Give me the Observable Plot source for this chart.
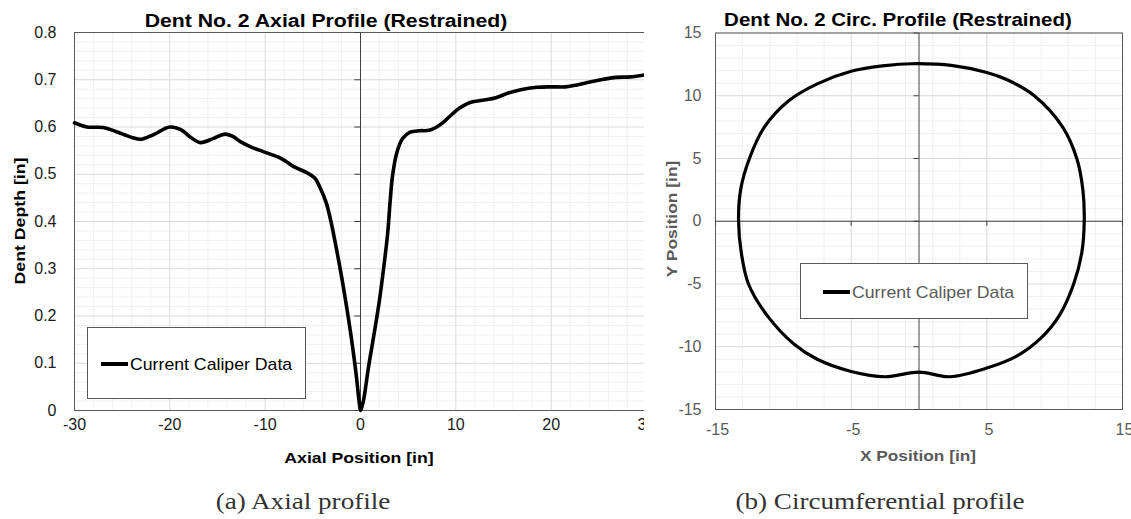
<!DOCTYPE html>
<html>
<head>
<meta charset="utf-8">
<script src="https://cdn.jsdelivr.net/npm/d3@7"></script>
<script src="https://cdn.jsdelivr.net/npm/@observablehq/plot@0.6"></script>
<style>
  html, body { margin: 0; padding: 0; background: #fff; }
  body { position: relative; width: 1131px; height: 519px; overflow: hidden;
         font-family: "Liberation Sans", Arial, sans-serif; }
  .panel { position: absolute; top: 0; height: 519px; overflow: hidden; }
  .panel svg { max-width: none !important; }
  .txt { position: absolute; white-space: nowrap; line-height: 1; }
  .legend { position: absolute; background: #fff; border: 1px solid #595959; box-sizing: border-box; }
  .swatch { position: absolute; height: 4px; background: #000; }
</style>
</head>
<body>
<script>
// Dent No. 2 axial profile: depth along the pipe axis
const axialPosition = [
  -30, -28.7, -27, -25.6, -24, -23, -21.7, -20, -18.8, -17.8, -16.8, -15.4, -14.2, -13.4,
  -12.6, -11.4, -10.2, -8.6, -7.8, -7.0, -5.6, -4.8, -4.2, -3.6, -3.1, -2.6, -2.0, -1.4,
  -0.9, -0.45, -0.15, 0, 0.15, 0.35, 0.85, 1.45, 2.0, 2.45, 2.85, 3.1, 3.35, 3.8, 4.4,
  5.2, 6.2, 7.2, 8.0, 8.8, 9.6, 10.4, 11.5, 13, 14.2, 15.5, 16.8, 18.5, 20, 21.5, 22.7,
  24.2, 25.5, 26.8, 28.3, 30
];
const dentDepth = [
  0.609, 0.600, 0.599, 0.590, 0.578, 0.574, 0.584, 0.600, 0.594, 0.578, 0.567, 0.576, 0.585, 0.580,
  0.569, 0.557, 0.548, 0.536, 0.527, 0.516, 0.503, 0.492, 0.470, 0.440, 0.400, 0.350, 0.285, 0.212,
  0.145, 0.075, 0.020, 0.0, 0.008, 0.025, 0.093, 0.165, 0.235, 0.305, 0.375, 0.440, 0.495, 0.545, 0.575,
  0.589, 0.592, 0.593, 0.600, 0.612, 0.627, 0.640, 0.652, 0.657, 0.662, 0.672, 0.679, 0.684, 0.685, 0.685, 0.689,
  0.696, 0.701, 0.705, 0.706, 0.711
];
const axialTicks = [-30, -20, -10, 0, 10, 20, 30];
const axialMinor = [-28, -26, -24, -22, -18, -16, -14, -12, -8, -6, -4, -2, 2, 4, 6, 8, 12, 14, 16, 18, 22, 24, 26, 28];
const depthTicks = [0, 0.1, 0.2, 0.3, 0.4, 0.5, 0.6, 0.7, 0.8];
const depthMinor = [0.02, 0.04, 0.06, 0.08, 0.12, 0.14, 0.16, 0.18, 0.22, 0.24, 0.26, 0.28,
  0.32, 0.34, 0.36, 0.38, 0.42, 0.44, 0.46, 0.48, 0.52, 0.54, 0.56, 0.58, 0.62, 0.64, 0.66, 0.68,
  0.72, 0.74, 0.76, 0.78];

// Dent No. 2 circumferential profile: cross-section outline, counter-clockwise from the right
const circX = [
  12.18, 12.08, 11.63, 10.59, 8.5, 6.5, 5.0, 2.5, -0.56, -2.5, -5.0, -7.5, -9.6, -11.4, -12.5, -13.15,
  -13.3, -13.1, -12.57, -11.2, -9.2, -7.5, -5.0, -2.52, 0.0, 2.25, 5.0, 7.2, 9.0, 10.35, 11.4, 12.0
];
const circY = [
  0, 2.5, 5, 7.5, 10, 11.27, 11.85, 12.4, 12.55, 12.4, 11.95, 10.95, 9.6, 7.5, 5, 2.5,
  0, -2.5, -5, -7.5, -9.8, -11.0, -11.97, -12.39, -12.02, -12.39, -11.7, -10.75, -9.3, -7.5, -5, -2.5
];
const circXTicks = [-15, -5, 5, 15];
const circXMinor = [-13, -11, -9, -7, -3, -1, 1, 3, 7, 9, 11, 13];
const circYTicks = [-15, -10, -5, 0, 5, 10, 15];
const circYMinor = [-14, -13, -12, -11, -9, -8, -7, -6, -4, -3, -2, -1, 1, 2, 3, 4, 6, 7, 8, 9, 11, 12, 13, 14];

const seriesLabel = "Current Caliper Data";

const font = "'Liberation Sans', Arial, sans-serif";

// ---- (a) axial profile ----
const axialIdx = d3.range(axialPosition.length);
const axialChart = Plot.plot({
  width: 660, height: 470,
  marginLeft: 74, marginRight: 14, marginTop: 32, marginBottom: 60,
  x: {domain: [-30, 30]},
  y: {domain: [0, 0.8]},
  style: {fontFamily: font, fontSize: "16px", color: "#1a1a1a", background: "transparent"},
  marks: [
    Plot.gridX(axialMinor, {stroke: "#f0f0f0", strokeOpacity: 1}),
    Plot.gridY(depthMinor, {stroke: "#f0f0f0", strokeOpacity: 1}),
    Plot.gridX(axialTicks, {stroke: "#d9d9d9", strokeOpacity: 1}),
    Plot.gridY(depthTicks, {stroke: "#d9d9d9", strokeOpacity: 1}),
    Plot.frame({stroke: "#595959"}),
    Plot.ruleX([0], {stroke: "#404040"}),
    Plot.ruleY(depthTicks, {y: d => d, x1: 0, x2: -0.6, stroke: "#404040"}),
    Plot.axisX(axialTicks, {tickSize: 0, tickPadding: 8, tickFormat: d => String(d), label: null, fontSize: 16}),
    Plot.axisY(depthTicks, {tickSize: 0, tickPadding: 18, tickFormat: d => String(d), label: null, fontSize: 16}),
    Plot.line(axialIdx, {x: i => axialPosition[i], y: i => dentDepth[i], curve: "catmull-rom",
      stroke: "#000", strokeWidth: 3.6})
  ]
});

// ---- (b) circumferential profile ----
const circIdx = d3.range(circX.length);
const circChart = Plot.plot({
  width: 492, height: 469,
  marginLeft: 65, marginRight: 20, marginTop: 32.5, marginBottom: 60,
  x: {domain: [-15, 15]},
  y: {domain: [-15, 15]},
  style: {fontFamily: font, fontSize: "16px", color: "#595959", background: "transparent"},
  marks: [
    Plot.gridX(circXMinor, {stroke: "#f0f0f0", strokeOpacity: 1}),
    Plot.gridY(circYMinor, {stroke: "#f0f0f0", strokeOpacity: 1}),
    Plot.gridX(circXTicks, {stroke: "#d9d9d9", strokeOpacity: 1}),
    Plot.gridY(circYTicks, {stroke: "#d9d9d9", strokeOpacity: 1}),
    Plot.frame({stroke: "#595959"}),
    Plot.ruleX([0], {stroke: "#404040"}),
    Plot.ruleY([0], {stroke: "#404040"}),
    Plot.ruleY(circYTicks, {y: d => d, x1: 0, x2: -0.37, stroke: "#404040"}),
    Plot.ruleX(circXTicks, {x: d => d, y1: 0, y2: -0.4, stroke: "#404040"}),
    Plot.axisX(circXTicks, {tickSize: 0, tickPadding: 14, tickFormat: d => String(d), label: null, fontSize: 16, dx: 2}),
    Plot.axisY(circYTicks, {tickSize: 0, tickPadding: 14, tickFormat: d => String(d), label: null, fontSize: 16}),
    Plot.line(circIdx, {x: i => circX[i], y: i => circY[i], curve: "catmull-rom-closed",
      stroke: "#000", strokeWidth: 3.2})
  ]
});

function panel(left, width, chart) {
  const div = document.createElement("div");
  div.className = "panel";
  div.style.left = left + "px";
  div.style.width = width + "px";
  chart.style.maxWidth = "none";
  div.appendChild(chart);
  document.body.appendChild(div);
}
panel(0, 644, axialChart);
panel(650, 481, circChart);

// text centred on (cx, cy), stretched along its own direction
function label(text, cx, cy, {size = 15, weight = "bold", color = "#000", scale = 1, rotate = 0, family = font} = {}) {
  const el = document.createElement("div");
  el.className = "txt";
  el.textContent = text;
  el.style.left = cx + "px";
  el.style.top = cy + "px";
  el.style.fontSize = size + "px";
  el.style.fontWeight = weight;
  el.style.color = color;
  el.style.fontFamily = family;
  el.style.transform = `translate(-50%, -50%) rotate(${rotate}deg) scaleX(${scale})`;
  document.body.appendChild(el);
  return el;
}

function legend(left, top, width, height, swatchLeft, swatchY, color) {
  const box = document.createElement("div");
  box.className = "legend";
  box.style.left = left + "px";
  box.style.top = top + "px";
  box.style.width = width + "px";
  box.style.height = height + "px";
  document.body.appendChild(box);
  const sw = document.createElement("div");
  sw.className = "swatch";
  sw.style.left = swatchLeft + "px";
  sw.style.top = (swatchY - 2) + "px";
  sw.style.width = "27px";
  box.appendChild(sw);
  const t = document.createElement("div");
  t.className = "txt";
  t.textContent = seriesLabel;
  t.style.left = (swatchLeft + 29) + "px";
  t.style.top = swatchY + "px";
  t.style.fontSize = "17px";
  t.style.color = color;
  t.style.transformOrigin = "0 50%";
  t.style.transform = "translateY(-50%) scaleX(1.04)";
  box.appendChild(t);
}

// titles
label("Dent No. 2 Axial Profile (Restrained)", 326, 20.5, {size: 18, scale: 1.18});
label("Dent No. 2 Circ. Profile (Restrained)", 898, 20, {size: 18, scale: 1.14});
// axis titles
label("Axial Position [in]", 359, 457, {size: 15, scale: 1.18});
label("Dent Depth [in]", 19, 221, {size: 15, scale: 1.18, rotate: -90});
label("X Position [in]", 917.5, 455, {size: 15, scale: 1.15, color: "#595959"});
label("Y Position [in]", 671, 219, {size: 15, scale: 1.16, rotate: -90, color: "#595959"});
// legends
legend(87, 327, 219, 72, 13, 36, "#000");
legend(800, 263, 228, 56, 22, 28, "#595959");
// captions
const serif = "'Liberation Serif', 'Times New Roman', serif";
label("(a) Axial profile", 303, 501, {size: 24, weight: "normal", color: "#333", scale: 1.13, family: serif});
label("(b) Circumferential profile", 880, 501, {size: 24, weight: "normal", color: "#333", scale: 1.13, family: serif});
</script>
</body>
</html>
